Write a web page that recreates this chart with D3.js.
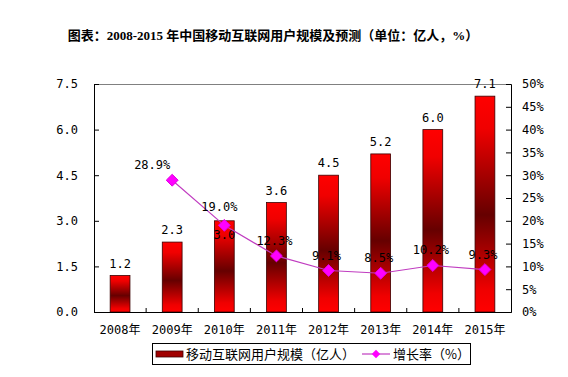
<!DOCTYPE html>
<html>
<head>
<meta charset="utf-8">
<script src="https://cdn.jsdelivr.net/npm/d3@7"></script>
<style>
  body { margin: 0; background: #fff; }
  svg { display: block; }
</style>
</head>
<body>
<div id="chart"></div>
<script>
const years = ["2008年", "2009年", "2010年", "2011年", "2012年", "2013年", "2014年", "2015年"];
const users = [1.2, 2.3, 3.0, 3.6, 4.5, 5.2, 6.0, 7.1];
const growth = [null, 28.9, 19.0, 12.3, 9.1, 8.5, 10.2, 9.3];
const leftTicks = [0, 1.5, 3.0, 4.5, 6.0, 7.5];
const rightTicks = [0, 5, 10, 15, 20, 25, 30, 35, 40, 45, 50];

const width = 568, height = 377;
const m = { left: 94, right: 511, top: 84, bottom: 312 };
const numFont = "'DejaVu Sans Mono', 'Noto Sans CJK SC', monospace";
const cjkFont = "'Noto Sans CJK SC', sans-serif";

const svg = d3.select("#chart").append("svg")
    .attr("width", width)
    .attr("height", height);

// gradient for the bars
const defs = svg.append("defs");
const grad = defs.append("linearGradient")
    .attr("id", "barGrad")
    .attr("x1", 0).attr("y1", 0).attr("x2", 0).attr("y2", 1);
grad.append("stop").attr("offset", "0%").attr("stop-color", "#ff0000");
grad.append("stop").attr("offset", "15%").attr("stop-color", "#f00000");
grad.append("stop").attr("offset", "55%").attr("stop-color", "#660000");
grad.append("stop").attr("offset", "90%").attr("stop-color", "#f00000");
grad.append("stop").attr("offset", "100%").attr("stop-color", "#ff0000");

const x = d3.scaleBand().domain(years).range([m.left, m.right]).paddingInner(0.62).paddingOuter(0.31);
const xb = d3.scaleBand().domain(years).range([m.left, m.right]);
const y = d3.scaleLinear().domain([0, 7.5]).range([m.bottom, m.top]);
const y2 = d3.scaleLinear().domain([0, 50]).range([m.bottom, m.top]);

// title
svg.append("text")
    .attr("x", 273)
    .attr("y", 40)
    .attr("text-anchor", "middle")
    .attr("font-family", "'Liberation Serif', 'Noto Sans CJK SC', serif")
    .attr("font-weight", "bold")
    .attr("font-size", "13px")
    .text("图表：2008-2015 年中国移动互联网用户规模及预测（单位：亿人，%）");

// top border
svg.append("line")
    .attr("x1", m.left).attr("x2", m.right)
    .attr("y1", m.top + 0.5).attr("y2", m.top + 0.5)
    .attr("stroke", "#808080");

// bars
svg.selectAll("rect.bar")
    .data(users)
    .enter()
    .append("rect")
    .attr("class", "bar")
    .attr("x", (d, i) => x(years[i]))
    .attr("y", d => y(d))
    .attr("width", x.bandwidth())
    .attr("height", d => y(0) - y(d))
    .attr("fill", "url(#barGrad)")
    .attr("stroke", "#3a0000")
    .attr("stroke-width", 0.8);

// bar labels sit above the bar, unless the growth marker is in the way
svg.selectAll("text.barlabel")
    .data(users)
    .enter()
    .append("text")
    .attr("class", "barlabel")
    .attr("x", (d, i) => x(years[i]) + x.bandwidth() / 2)
    .attr("y", (d, i) => {
        const g = growth[i];
        if (g !== null && Math.abs(y2(g) - y(d)) < 15) return y(d) + 18;
        return y(d) - 8;
    })
    .attr("text-anchor", "middle")
    .attr("font-family", numFont)
    .attr("font-size", "12px")
    .text(d => d.toFixed(1));

// axes
const leftAxis = d3.axisLeft(y).tickValues(leftTicks).tickSize(-5).tickPadding(16).tickFormat(d3.format(".1f"));
const gl = svg.append("g").attr("transform", "translate(" + m.left + ",0)").call(leftAxis);

const rightAxis = d3.axisRight(y2).tickValues(rightTicks).tickSize(-5).tickPadding(11).tickFormat(d => d + "%");
const gr = svg.append("g").attr("transform", "translate(" + m.right + ",0)").call(rightAxis);

const bottomAxis = d3.axisBottom(xb).tickSize(0).tickPadding(13);
const gb = svg.append("g").attr("transform", "translate(0," + m.bottom + ")").call(bottomAxis);

[gl, gr, gb].forEach(g => {
    g.select(".domain").attr("stroke", "#000");
    g.selectAll("text")
        .attr("font-family", numFont)
        .attr("font-size", "12px")
        .attr("fill", "#000");
    g.selectAll(".tick line").attr("stroke", "#000");
});

// x ticks between categories
svg.selectAll("line.xtick")
    .data(years.slice(1))
    .enter()
    .append("line")
    .attr("class", "xtick")
    .attr("x1", d => xb(d)).attr("x2", d => xb(d))
    .attr("y1", m.bottom).attr("y2", m.bottom - 4)
    .attr("stroke", "#000");

// growth line
const pts = growth.map((g, i) => ({ g: g, yr: years[i] })).filter(d => d.g !== null);
const line = d3.line()
    .x(d => xb(d.yr) + xb.bandwidth() / 2)
    .y(d => y2(d.g));

svg.append("path")
    .datum(pts)
    .attr("d", line)
    .attr("fill", "none")
    .attr("stroke", "#c03cc0")
    .attr("stroke-width", 1.2);

const diamond = d3.symbol().type(d3.symbolDiamond2).size(90);
svg.selectAll("path.marker")
    .data(pts)
    .enter()
    .append("path")
    .attr("class", "marker")
    .attr("transform", d => "translate(" + (xb(d.yr) + xb.bandwidth() / 2) + "," + y2(d.g) + ")")
    .attr("d", diamond)
    .attr("fill", "#ff00ff")
    .attr("stroke", "#e000e0");

svg.selectAll("text.glabel")
    .data(pts)
    .enter()
    .append("text")
    .attr("class", "glabel")
    .attr("x", (d, i) => xb(d.yr) + xb.bandwidth() / 2 - (i === 0 ? 20 : i === 1 ? 5 : 2))
    .attr("y", (d, i) => y2(d.g) - (i === 1 ? 14 : 11))
    .attr("text-anchor", "middle")
    .attr("font-family", numFont)
    .attr("font-size", "12px")
    .text(d => d.g.toFixed(1) + "%");

// legend
const lg = svg.append("g");
lg.append("rect")
    .attr("x", 152.5).attr("y", 343.5)
    .attr("width", 318).attr("height", 21)
    .attr("fill", "#fff")
    .attr("stroke", "#000");
lg.append("rect")
    .attr("x", 156).attr("y", 351)
    .attr("width", 27).attr("height", 6)
    .attr("fill", "#a00000")
    .attr("stroke", "#400000")
    .attr("stroke-width", 0.8);
lg.append("text")
    .attr("x", 186).attr("y", 359)
    .attr("font-family", cjkFont)
    .attr("font-size", "13px")
    .text("移动互联网用户规模（亿人）");
lg.append("line")
    .attr("x1", 362).attr("x2", 390)
    .attr("y1", 354).attr("y2", 354)
    .attr("stroke", "#c03cc0")
    .attr("stroke-width", 1.2);
lg.append("path")
    .attr("transform", "translate(376,354)")
    .attr("d", d3.symbol().type(d3.symbolDiamond2).size(45))
    .attr("fill", "#ff00ff");
lg.append("text")
    .attr("x", 393).attr("y", 359)
    .attr("font-family", cjkFont)
    .attr("font-size", "13px")
    .text("增长率（%）");
</script>
</body>
</html>
